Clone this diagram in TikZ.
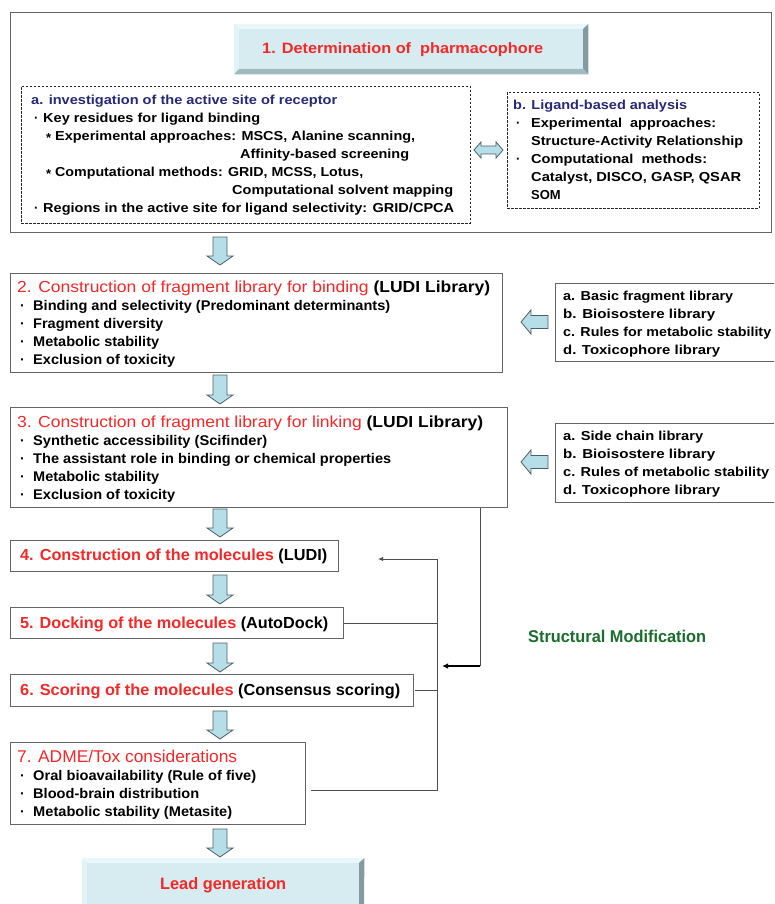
\documentclass[tikz,border=0pt]{standalone}
\usepackage{fontspec}
\setmainfont{Liberation Sans}
\usepackage{graphicx}
\usetikzlibrary{arrows.meta}
\definecolor{rd}{RGB}{245,40,40}
\definecolor{nv}{RGB}{40,40,120}
\definecolor{gn}{RGB}{25,110,45}
\definecolor{arfill}{RGB}{182,222,232}
\definecolor{arline}{RGB}{80,95,100}
\definecolor{bx}{RGB}{100,100,100}
\definecolor{btfill}{RGB}{214,236,240}
\definecolor{btdark}{RGB}{128,156,160}
\definecolor{btmid}{RGB}{160,186,190}
\definecolor{btlight}{RGB}{234,247,250}
\newcommand\fw[2]{\resizebox{#1pt}{\height}{#2}}
\newcommand\fsz[1]{\fontsize{#1pt}{#1pt}\selectfont}
\newcommand\dnarrow[3]{\draw[blockarrow] ({#1-7},#2) -- ({#1+7},#2) -- ({#1+7},{#3-9}) -- ({#1+13},{#3-9}) -- (#1,#3) -- ({#1-13},{#3-9}) -- ({#1-7},{#3-9}) -- cycle;}
\newcommand\lfarrow[3]{\draw[blockarrow] (#2,{#3-6.5}) -- (#2,{#3+6.5}) -- ({#1+10},{#3+6.5}) -- ({#1+10},{#3+12}) -- (#1,#3) -- ({#1+10},{#3-12}) -- ({#1+10},{#3-6.5}) -- cycle;}
\tikzset{
  plainbox/.style={draw=bx, line width=1pt, fill=white, inner sep=0pt, anchor=north west},
  dashbox/.style={draw=black!85, line width=0.9pt, dash pattern=on 2.5pt off 1.5pt, inner sep=0pt, anchor=north west},
  frame/.style={inner sep=0pt, anchor=north west},
  boxline/.style={draw=bx, line width=1pt},
  txt/.style={anchor=base west, inner sep=0pt},
  blockarrow/.style={fill=arfill, draw=arline, line width=0.8pt, line join=miter},
  fb/.style={draw=black!70, line width=0.9pt},
}
\begin{document}
\begin{tikzpicture}[x=1pt,y=-1pt]
\useasboundingbox (0,0) rectangle (774,904);
\fill[white] (0,0) rectangle (774,904);

% ---------- section 1 ----------
\node[draw=bx, line width=1.2pt, minimum width=761pt, minimum height=220pt, frame] (sec1) at (10,12) {};
\node[frame, fill=btfill, minimum width=354pt, minimum height=50pt] (hd1) at (234,24) {};
\fill[btlight] (hd1.north west) -- (hd1.north east) -- ++(-5,5) -- (239,29) -- cycle;
\fill[btlight!60!btfill] (hd1.north west) -- (239,29) -- (239,69) -- (hd1.south west) -- cycle;
\fill[btdark] (hd1.north east) -- (hd1.south east) -- (583,69) -- (583,29) -- cycle;
\fill[btmid] (hd1.south west) -- (hd1.south east) -- (583,69) -- (239,69) -- cycle;
\node[txt] (t1) at (262,53.4) {\fsz{15}\bfseries\color{rd}\fw{281}{1. Determination of~ pharmacophore}};

\node[dashbox, minimum width=449pt, minimum height=137pt] (ba) at (21,86) {};
\node[txt] (ta0) at (31,104.7) {\fsz{13}\bfseries\color{nv}\fw{306}{a. investigation of the active site of receptor}};
\node[txt] (ta1b) at (34,122.7) {\fsz{13}\bfseries ·};
\node[txt] (ta1) at (43,122.7) {\fsz{13}\bfseries\fw{217}{Key residues for ligand binding}};
\node[txt] (ta2s) at (46,142.2) {\fsz{13}\bfseries *};
\node[txt] (ta2) at (55,140.7) {\fsz{13}\bfseries\fw{360}{Experimental approaches: MSCS, Alanine scanning,}};
\node[txt] (ta3) at (240,158.7) {\fsz{13}\bfseries\fw{169}{Affinity-based screening}};
\node[txt] (ta4s) at (46,178.2) {\fsz{13}\bfseries *};
\node[txt] (ta4) at (55,176.7) {\fsz{13}\bfseries\fw{308}{Computational methods: GRID, MCSS, Lotus,}};
\node[txt] (ta5) at (232,194.7) {\fsz{13}\bfseries\fw{221}{Computational solvent mapping}};
\node[txt] (ta6b) at (34,212.7) {\fsz{13}\bfseries ·};
\node[txt] (ta6) at (43,212.7) {\fsz{13}\bfseries\fw{411}{Regions in the active site for ligand selectivity: GRID/CPCA}};

\node[dashbox, minimum width=252pt, minimum height=116pt] (bb) at (507,92) {};
\node[txt] (tb0) at (513,109.7) {\fsz{13}\bfseries\color{nv}\fw{174}{b. Ligand-based analysis}};
\node[txt] (tb1b) at (516,127.7) {\fsz{13}\bfseries ·};
\node[txt] (tb1) at (531,127.7) {\fsz{13}\bfseries\fw{185}{Experimental~ approaches:}};
\node[txt] (tb2) at (531,145.7) {\fsz{13}\bfseries\fw{212}{Structure-Activity Relationship}};
\node[txt] (tb3b) at (516,163.7) {\fsz{13}\bfseries ·};
\node[txt] (tb3) at (531,163.7) {\fsz{13}\bfseries\fw{176}{Computational~ methods:}};
\node[txt] (tb4) at (531,181.7) {\fsz{13}\bfseries\fw{210}{Catalyst, DISCO, GASP, QSAR}};
\node[txt] (tb5) at (531,199.7) {\fsz{13}\bfseries SOM};

\draw[blockarrow] (474,150) -- (481,142) -- (481,146) -- (496,146) -- (496,142) -- (503,150) -- (496,158) -- (496,154) -- (481,154) -- (481,158) -- cycle;

% ---------- box 2 ----------
\node[plainbox, minimum width=492pt, minimum height=99pt] (b2) at (10,273) {};
\node[txt] (t20) at (17,292.8) {\fsz{16}\fw{473}{\color{rd}2. Construction of fragment library for binding \color{black}\bfseries(LUDI Library)}};
\foreach \yy/\ww/\tt [count=\i] in {310/357/{Binding and selectivity (Predominant determinants)},328/130/{Fragment diversity},346/126/{Metabolic stability},364/142/{Exclusion of toxicity}}{
  \node[txt] (t2b\i) at (20,\yy) {\fsz{14}\bfseries ·};
  \node[txt] (t2\i) at (33,\yy) {\fsz{14}\bfseries\fw{\ww}{\tt}};
}

\node[frame, minimum width=219pt, minimum height=78pt] (s2) at (555,283) {};
\draw[boxline] (s2.north east) -- (s2.north west) -- (s2.south west) -- (s2.south east);
\foreach \yy/\ww/\tt [count=\i] in {300.7/170/{a. Basic fragment library},318.7/152/{b. Bioisostere library},336.7/208/{c. Rules for metabolic stability},354.7/157/{d. Toxicophore library}}{
  \node[txt] (s2t\i) at (563,\yy) {\fsz{13}\bfseries\fw{\ww}{\tt}};
}
\lfarrow{521}{548}{322}

% ---------- box 3 ----------
\node[plainbox, minimum width=497pt, minimum height=100pt] (b3) at (10,407) {};
\node[txt] (t30) at (17,427.8) {\fsz{16}\fw{466}{\color{rd}3. Construction of fragment library for linking \color{black}\bfseries(LUDI Library)}};
\foreach \yy/\ww/\tt [count=\i] in {445/234/{Synthetic accessibility (Scifinder)},463/358/{The assistant role in binding or chemical properties},481/126/{Metabolic stability},499/142/{Exclusion of toxicity}}{
  \node[txt] (t3b\i) at (20,\yy) {\fsz{14}\bfseries ·};
  \node[txt] (t3\i) at (33,\yy) {\fsz{14}\bfseries\fw{\ww}{\tt}};
}

\node[frame, minimum width=219pt, minimum height=79pt] (s3) at (555,423) {};
\draw[boxline] (s3.north east) -- (s3.north west) -- (s3.south west) -- (s3.south east);
\foreach \yy/\ww/\tt [count=\i] in {440.7/140/{a. Side chain library},458.7/152/{b. Bioisostere library},476.7/206/{c. Rules of metabolic stability},494.7/157/{d. Toxicophore library}}{
  \node[txt] (s3t\i) at (563,\yy) {\fsz{13}\bfseries\fw{\ww}{\tt}};
}
\lfarrow{521}{548}{462}

% ---------- boxes 4-6 ----------
\node[plainbox, minimum width=328pt, minimum height=31pt] (b4) at (10,540) {};
\node[txt] (t4) at (20,560.8) {\fsz{16}\bfseries\fw{307}{\color{rd}4. Construction of the molecules \color{black}(LUDI)}};
\node[plainbox, minimum width=333pt, minimum height=31pt] (b5) at (10,607) {};
\node[txt] (t5) at (20,628.8) {\fsz{16}\bfseries\fw{308}{\color{rd}5. Docking of the molecules \color{black}(AutoDock)}};
\node[plainbox, minimum width=403pt, minimum height=32pt] (b6) at (10,674) {};
\node[txt] (t6) at (20,695.8) {\fsz{16}\bfseries\fw{380}{\color{rd}6. Scoring of the molecules \color{black}(Consensus scoring)}};

% ---------- box 7 ----------
\node[plainbox, minimum width=295pt, minimum height=82pt] (b7) at (10,742) {};
\node[txt] (t70) at (17,762) {\fsz{17}\color{rd}\fw{220}{7. ADME/Tox considerations}};
\foreach \yy/\ww/\tt [count=\i] in {780/223/{Oral bioavailability (Rule of five)},798/166/{Blood-brain distribution},816/199/{Metabolic stability (Metasite)}}{
  \node[txt] (t7b\i) at (20,\yy) {\fsz{14}\bfseries ·};
  \node[txt] (t7\i) at (33,\yy) {\fsz{14}\bfseries\fw{\ww}{\tt}};
}

% ---------- lead ----------
\node[frame, fill=btfill, minimum width=282pt, minimum height=48pt] (ld) at (82,858) {};
\fill[btlight] (ld.north west) -- (ld.north east) -- (359,863) -- (87,863) -- cycle;
\fill[btlight!60!btfill] (ld.north west) -- (87,863) -- (87,906) -- (82,906) -- cycle;
\fill[btdark] (ld.north east) -- (364,906) -- (359,906) -- (359,863) -- cycle;
\node[txt] (tl) at (160,889) {\fsz{16.5}\bfseries\color{rd}\fw{126}{Lead generation}};

% ---------- block arrows ----------
\dnarrow{220}{237}{265}
\dnarrow{220}{375}{404}
\dnarrow{220}{509}{537}
\dnarrow{220}{575}{604}
\dnarrow{220}{643}{672}
\dnarrow{220}{711}{739}
\dnarrow{220}{829}{857}

% ---------- feedback ----------
\node[txt] (sm) at (528,642) {\fsz{17}\bfseries\color{gn}\fw{178}{Structural Modification}};
\coordinate (fbtop) at (437,559);
\coordinate (fbtip) at (378,559);
\coordinate (fb7) at (311,790);
\coordinate (fbbot) at (437,790);
\draw[fb] (b5.east) -- (b5.east -| fbtop);
\draw[fb] ([xshift=1pt]b6.east) -- (b6.east -| fbtop);
\draw[fb,-{Latex[length=5pt,width=4.5pt]}] (fb7) -- (fbbot) -- (fbtop) -- (fbtip);
\coordinate (smtop) at (480,507.5);
\coordinate (smcor) at (480,666);
\coordinate (smtip) at (442,666);
\draw[fb] (smtop) -- (smcor);
\draw[line width=1.5pt,-{Latex[length=6pt,width=5.5pt]}] ([xshift=0.3pt]smcor) -- (smtip);
\end{tikzpicture}
\end{document}
